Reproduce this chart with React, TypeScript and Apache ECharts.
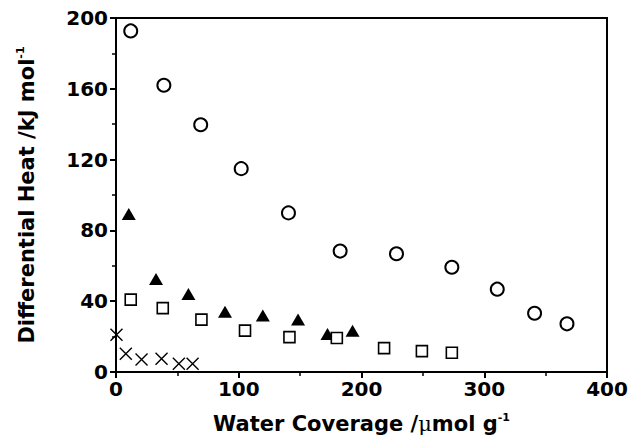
import React, { useEffect, useRef } from "react";
import * as echarts from "echarts";

const circleX = [12, 39, 69, 102, 140.5, 182.6, 228.5, 273.6, 310.6, 341, 367.4];
const circleY = [192.7, 162, 139.7, 114.9, 89.9, 68.3, 66.8, 59.2, 46.8, 33.2, 27.2];

const triX = [10.4, 32.6, 59, 88.8, 119.6, 148.3, 172.3, 192.7];
const triY = [89.2, 52.6, 44.1, 34.1, 31.9, 29.6, 21.4, 23.3];

const sqX = [12, 38.1, 69.6, 105.1, 141.3, 179.9, 218.4, 249.2, 273.6];
const sqY = [40.9, 36.1, 29.6, 23.4, 19.7, 19.2, 13.5, 11.8, 10.9];

const crossX = [0.4, 8, 20.8, 37.1, 51.2, 62.4];
const crossY = [21, 10.3, 7.1, 7.5, 4.7, 4.7];

const xTicks = [0, 100, 200, 300, 400];
const yTicks = [0, 40, 80, 120, 160, 200];

const zip = (xs: number[], ys: number[]) => xs.map((x, i) => [x, ys[i]]);

const FONT = "'DejaVu Sans', sans-serif";

export default function App() {
  const ref = useRef<HTMLDivElement>(null);
  useEffect(() => {
    if (!ref.current) return;
    const chart = echarts.init(ref.current, undefined, { renderer: "svg" });
    chart.setOption({
      animation: false,
      backgroundColor: "#ffffff",
      grid: {
        left: 116,
        top: 18,
        right: 25,
        bottom: 74,
        show: true,
        borderColor: "#000",
        borderWidth: 2,
      },
      xAxis: {
        type: "value",
        min: xTicks[0],
        max: xTicks[xTicks.length - 1],
        interval: 100,
        name: "Water Coverage /{mu|μ}mol g{sup|-1}",
        nameLocation: "middle",
        nameGap: 40,
        nameTextStyle: {
          fontFamily: FONT,
          fontWeight: "bold",
          fontSize: 21,
          color: "#000",
          rich: {
            mu: { fontFamily: "'DejaVu Serif', serif", fontWeight: "normal", fontSize: 21, color: "#000" },
            sup: { fontFamily: FONT, fontWeight: "bold", fontSize: 11, verticalAlign: "top", padding: [0, 0, 13, 0], color: "#000" },
          },
        },
        axisLine: { show: true, lineStyle: { color: "#000", width: 2 } },
        axisTick: { show: true, inside: false, length: 6, lineStyle: { color: "#000", width: 2 } },
        minorTick: { show: true, splitNumber: 2, length: 4, lineStyle: { color: "#000", width: 1.5 } },
        splitLine: { show: false },
        axisLabel: {
          fontFamily: FONT,
          fontWeight: "bold",
          fontSize: 20,
          color: "#000",
          margin: 7,
        },
      },
      yAxis: {
        type: "value",
        min: yTicks[0],
        max: yTicks[yTicks.length - 1],
        interval: 40,
        name: "Differential Heat /kJ mol{sup|-1}",
        nameLocation: "middle",
        nameGap: 77,
        nameTextStyle: {
          fontFamily: FONT,
          fontWeight: "bold",
          fontSize: 21,
          color: "#000",
          rich: {
            sup: { fontFamily: FONT, fontWeight: "bold", fontSize: 11, verticalAlign: "top", padding: [0, 0, 13, 0], color: "#000" },
          },
        },
        axisLine: { show: true, lineStyle: { color: "#000", width: 2 } },
        axisTick: { show: true, inside: false, length: 6, lineStyle: { color: "#000", width: 2 } },
        minorTick: { show: true, splitNumber: 2, length: 4, lineStyle: { color: "#000", width: 1.5 } },
        splitLine: { show: false },
        axisLabel: {
          fontFamily: FONT,
          fontWeight: "bold",
          fontSize: 20,
          color: "#000",
          margin: 8,
        },
      },
      series: [
        {
          type: "scatter",
          data: zip(circleX, circleY),
          symbol: "circle",
          symbolSize: 13,
          itemStyle: { color: "#fff", borderColor: "#000", borderWidth: 2, opacity: 1 },
        },
        {
          type: "scatter",
          data: zip(triX, triY),
          symbol: "triangle",
          symbolSize: [14, 12],
          itemStyle: { color: "#000", opacity: 1 },
        },
        {
          type: "scatter",
          data: zip(sqX, sqY),
          symbol: "rect",
          symbolSize: 11,
          itemStyle: { color: "#fff", borderColor: "#000", borderWidth: 1.6, opacity: 1 },
        },
        {
          type: "scatter",
          data: zip(crossX, crossY),
          symbol: "path://M0,0L10,10M10,0L0,10",
          symbolSize: 12,
          itemStyle: { color: "none", borderColor: "#000", borderWidth: 1.4, opacity: 1 },
        },
      ],
    });
    return () => chart.dispose();
  }, []);
  return <div ref={ref} style={{ width: 632, height: 446, position: "absolute", left: 0, top: 0 }} />;
}
